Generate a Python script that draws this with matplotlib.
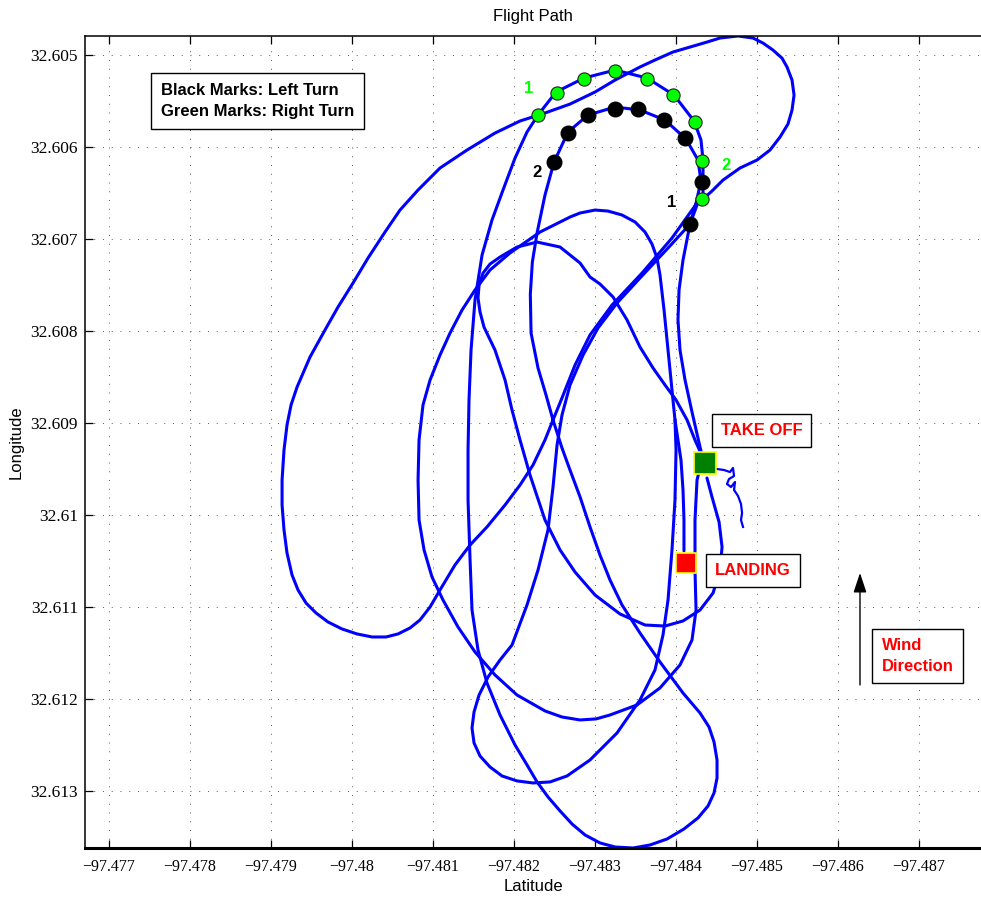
import matplotlib
matplotlib.use("Agg")
import matplotlib.pyplot as plt

# flight track, x = longitude, y = latitude (degrees)
# take-off climb, left turn and southbound leg
climb_lon = [-97.484349, -97.484300, -97.484201, -97.484115, -97.484053, -97.484028, -97.484041, -97.484090,
             -97.484177, -97.484251, -97.484312, -97.484275, -97.484127, -97.483868, -97.483559, -97.483251,
             -97.482917, -97.482670, -97.482498, -97.482386, -97.482288, -97.482230, -97.482205, -97.482214,
             -97.482300, -97.482399, -97.482485, -97.482596, -97.482695, -97.482819, -97.482942, -97.483065,
             -97.483189, -97.483337, -97.483559, -97.483806, -97.484090]
climb_lat = [32.609435, 32.609261, 32.608880, 32.608533, 32.608207, 32.607880, 32.607554, 32.607228,
             32.606837, 32.606609, 32.606370, 32.606141, 32.605913, 32.605707, 32.605598, 32.605565,
             32.605652, 32.605837, 32.606163, 32.606522, 32.606935, 32.607250, 32.607600, 32.608022,
             32.608402, 32.608696, 32.608967, 32.609272, 32.609511, 32.609804, 32.610130, 32.610435,
             32.610707, 32.610978, 32.611283, 32.611598, 32.611935]

# southern loop
south_lon = [-97.484300, -97.484411, -97.484473, -97.484510, -97.484510, -97.484473, -97.484399, -97.484275,
             -97.484102, -97.483893, -97.483683, -97.483473, -97.483251, -97.483065, -97.482880, -97.482720,
             -97.482572, -97.482423, -97.482288, -97.482164]
south_lat = [32.612152, 32.612304, 32.612467, 32.612663, 32.612859, 32.613022, 32.613163, 32.613293,
             32.613413, 32.613522, 32.613587, 32.613620, 32.613609, 32.613565, 32.613478, 32.613359,
             32.613217, 32.613065, 32.612902, 32.612717]

# northbound leg and right turn
north_lon = [-97.482016, -97.481831, -97.481670, -97.481559, -97.481485, -97.481461, -97.481436, -97.481436,
             -97.481448, -97.481473, -97.481522, -97.481609, -97.481732, -97.481868, -97.482016, -97.482164,
             -97.482300, -97.482522, -97.482868, -97.483251, -97.483646, -97.483979, -97.484226, -97.484312,
             -97.484337, -97.484337, -97.484337]
north_lat = [32.612500, 32.612174, 32.611826, 32.611467, 32.611033, 32.610489, 32.609837, 32.609293,
             32.608750, 32.608207, 32.607663, 32.607174, 32.606793, 32.606467, 32.606120, 32.605837,
             32.605652, 32.605402, 32.605250, 32.605163, 32.605250, 32.605435, 32.605717, 32.605924,
             32.606141, 32.606359, 32.606565]

# north-east lobe and long westbound leg
lobe_lon = [-97.484448, -97.484584, -97.484794, -97.485004, -97.485164, -97.485288, -97.485386, -97.485436,
            -97.485461, -97.485436, -97.485374, -97.485312, -97.485201, -97.485078, -97.484954, -97.484769,
            -97.484547, -97.484386, -97.484177, -97.483967, -97.483744, -97.483559, -97.483251, -97.483004,
            -97.482695, -97.482386, -97.482078, -97.481769, -97.481423, -97.481090, -97.480819, -97.480596,
            -97.480411, -97.480201, -97.480016, -97.479831, -97.479670, -97.479485, -97.479325]
lobe_lat = [32.606478, 32.606359, 32.606228, 32.606141, 32.606033, 32.605891, 32.605750, 32.605598,
            32.605435, 32.605272, 32.605130, 32.605033, 32.604946, 32.604870, 32.604815, 32.604793,
            32.604815, 32.604859, 32.604913, 32.604967, 32.605054, 32.605130, 32.605272, 32.605402,
            32.605533, 32.605630, 32.605717, 32.605848, 32.606033, 32.606228, 32.606467, 32.606685,
            32.606924, 32.607207, 32.607478, 32.607739, 32.607989, 32.608283, 32.608609]

# western loop and return to the north-east
west_lon = [-97.479251, -97.479201, -97.479164, -97.479140, -97.479140, -97.479164, -97.479201, -97.479263,
            -97.479337, -97.479436, -97.479559, -97.479707, -97.479880, -97.480065, -97.480251, -97.480423,
            -97.480572, -97.480720, -97.480843, -97.480967, -97.481090, -97.481275, -97.481461, -97.481670,
            -97.481893, -97.482078, -97.482238, -97.482386, -97.482485, -97.482596, -97.482757, -97.482942,
            -97.483214, -97.483584, -97.483954, -97.484263]
west_lat = [32.608804, 32.609022, 32.609293, 32.609620, 32.609891, 32.610163, 32.610413, 32.610652,
            32.610815, 32.610957, 32.611065, 32.611163, 32.611239, 32.611293, 32.611326, 32.611326,
            32.611293, 32.611228, 32.611141, 32.611000, 32.610815, 32.610543, 32.610326, 32.610130,
            32.609891, 32.609674, 32.609457, 32.609185, 32.608967, 32.608728, 32.608370, 32.608043,
            32.607717, 32.607370, 32.606989, 32.606609]

# second pass: south-west leg, small south loop, middle arch, western descent, southern sweep
pass2_lon = [-97.484263, -97.484177, -97.483905, -97.483559, -97.483275, -97.483041, -97.482856, -97.482695,
             -97.482596, -97.482535, -97.482485, -97.482423, -97.482300, -97.482164, -97.481979, -97.481831,
             -97.481683, -97.481572, -97.481510, -97.481485, -97.481510, -97.481584, -97.481707, -97.481856,
             -97.482041, -97.482238, -97.482448, -97.482658, -97.482942, -97.483275, -97.483559, -97.483744,
             -97.483843, -97.483905, -97.483954, -97.483991, -97.484004, -97.483991, -97.483954, -97.483905,
             -97.483856, -97.483806, -97.483769, -97.483707, -97.483621, -97.483498, -97.483337, -97.483164,
             -97.483004, -97.482819, -97.482695, -97.482325, -97.481954, -97.481707, -97.481522, -97.481362,
             -97.481214, -97.481090, -97.480967, -97.480880, -97.480831, -97.480819, -97.480831, -97.480893,
             -97.480991, -97.481127, -97.481312, -97.481522, -97.481769, -97.482041, -97.482386, -97.482596,
             -97.482819, -97.483016, -97.483189, -97.483522, -97.483806, -97.484053, -97.484201, -97.484251,
             -97.484238, -97.484238, -97.484263, -97.484300]
pass2_lat = [32.606630, 32.606837, 32.607098, 32.607424, 32.607696, 32.607967, 32.608261, 32.608587,
             32.608913, 32.609239, 32.609696, 32.610163, 32.610598, 32.610978, 32.611413, 32.611576,
             32.611761, 32.611957, 32.612141, 32.612315, 32.612478, 32.612620, 32.612739, 32.612837,
             32.612891, 32.612913, 32.612902, 32.612837, 32.612663, 32.612370, 32.612011, 32.611685,
             32.611304, 32.610924, 32.610380, 32.609837, 32.609293, 32.608967, 32.608641, 32.608207,
             32.607772, 32.607391, 32.607207, 32.607054, 32.606924, 32.606815, 32.606739, 32.606696,
             32.606685, 32.606717, 32.606761, 32.606924, 32.607152, 32.607337, 32.607554, 32.607772,
             32.608022, 32.608261, 32.608533, 32.608804, 32.609185, 32.609620, 32.610054, 32.610380,
             32.610674, 32.610924, 32.611217, 32.611489, 32.611739, 32.611957, 32.612130, 32.612196,
             32.612228, 32.612217, 32.612174, 32.612065, 32.611880, 32.611630, 32.611359, 32.611033,
             32.610598, 32.610054, 32.609620, 32.609489]

# inner arch and eastern loop back to the field
pass3_lon = [-97.484337, -97.484238, -97.484140, -97.484004, -97.483868, -97.483720, -97.483559, -97.483399,
             -97.483226, -97.483065, -97.482942, -97.482819, -97.482572, -97.482288, -97.482041, -97.481831,
             -97.481707, -97.481621, -97.481572, -97.481559, -97.481584, -97.481633, -97.481769, -97.481893,
             -97.481979, -97.482078, -97.482201, -97.482386, -97.482572, -97.482757, -97.483004, -97.483312,
             -97.483621, -97.483868, -97.484090, -97.484300, -97.484461, -97.484547, -97.484572, -97.484535,
             -97.484448, -97.484386]
pass3_lat = [32.609380, 32.609185, 32.608967, 32.608750, 32.608587, 32.608402, 32.608174, 32.607880,
             32.607630, 32.607489, 32.607413, 32.607261, 32.607087, 32.607033, 32.607087, 32.607196,
             32.607272, 32.607370, 32.607500, 32.607641, 32.607793, 32.607957, 32.608207, 32.608533,
             32.608859, 32.609185, 32.609565, 32.610054, 32.610380, 32.610620, 32.610870, 32.611076,
             32.611196, 32.611207, 32.611152, 32.611033, 32.610848, 32.610598, 32.610348, 32.610076,
             32.609804, 32.609598]

# final approach
approach_lon = [-97.483991, -97.484028, -97.484065, -97.484090, -97.484102, -97.484102]
approach_lat = [32.608967, 32.609185, 32.609402, 32.609728, 32.610054, 32.610391]

# ground track before take-off
taxi_lon = [-97.484510, -97.484596, -97.484670, -97.484707, -97.484720, -97.484658, -97.484633, -97.484683,
            -97.484732, -97.484720, -97.484769, -97.484806, -97.484819, -97.484806, -97.484831]
taxi_lat = [32.609500, 32.609511, 32.609533, 32.609489, 32.609576, 32.609609, 32.609663, 32.609696,
            32.609641, 32.609728, 32.609793, 32.609880, 32.609978, 32.610054, 32.610130]

# turn marks
right_turn_lon = [-97.482300, -97.482535, -97.482868, -97.483251, -97.483646, -97.483967, -97.484238,
                  -97.484325, -97.484325]
right_turn_lat = [32.605652, 32.605413, 32.605261, 32.605174, 32.605261, 32.605435, 32.605728,
                  32.606152, 32.606565]
left_turn_lon = [-97.482498, -97.482670, -97.482917, -97.483251, -97.483535, -97.483856, -97.484115,
                 -97.484325, -97.484177]
left_turn_lat = [32.606163, 32.605848, 32.605652, 32.605587, 32.605587, 32.605707, 32.605902,
                 32.606380, 32.606837]

takeoff = (-97.484362, 32.609435)
landing = (-97.484127, 32.610522)
wind_lon = -97.486275
wind_lat = (32.611848, 32.610630)

x_ticks = [-97.477, -97.478, -97.479, -97.480, -97.481, -97.482, -97.483, -97.484, -97.485, -97.486, -97.487]
y_ticks = [32.605, 32.606, 32.607, 32.608, 32.609, 32.610, 32.611, 32.612, 32.613]

sans = "Liberation Sans"
serif = "Liberation Serif"

fig = plt.figure(figsize=(9.81, 8.98), dpi=100)
ax = fig.add_axes([85 / 981, 50 / 898, 896 / 981, 812 / 898])

track = dict(color="#0000ff", lw=2.2, solid_joinstyle="round", solid_capstyle="round", zorder=2)
pass1_lon = climb_lon + south_lon + north_lon + lobe_lon + west_lon
pass1_lat = climb_lat + south_lat + north_lat + lobe_lat + west_lat
ax.plot(pass1_lon, pass1_lat, **track)
ax.plot(pass2_lon, pass2_lat, **track)
ax.plot(pass3_lon, pass3_lat, **track)
ax.plot(approach_lon, approach_lat, **track)
ax.plot(taxi_lon, taxi_lat, color="#0000ff", lw=1.6, solid_joinstyle="round", zorder=2)

ax.plot(right_turn_lon, right_turn_lat, "o", ms=9.5, mfc="#00ff00", mec="#202020", mew=0.8, zorder=3)
ax.plot(left_turn_lon, left_turn_lat, "o", ms=10.5, mfc="black", mec="black", zorder=3)

ax.plot(*takeoff, "s", ms=16.5, mfc="#008000", mec="#ffff00", mew=1.2, zorder=4)
ax.plot(*landing, "s", ms=15, mfc="#ff0000", mec="#ffff00", mew=1.2, zorder=4)

num = dict(fontsize=12, fontweight="bold", family=sans, ha="center", va="center")
ax.text(-97.482189, 32.605359, "1", color="#00ff00", **num)
ax.text(-97.484621, 32.606196, "2", color="#00ff00", **num)
ax.text(-97.482288, 32.606272, "2", color="black", **num)
ax.text(-97.483954, 32.606598, "1", color="black", **num)

label = dict(fontsize=12, fontweight="bold", family=sans, va="center", zorder=5)
ax.text(-97.477646, 32.605500, "Black Marks: Left Turn\nGreen Marks: Right Turn", ha="left",
        linespacing=1.45, bbox=dict(boxstyle="square,pad=0.6", fc="white", ec="black", lw=1), **label)
box = dict(boxstyle="square,pad=0.55", fc="white", ec="black", lw=1)
ax.text(-97.485059, 32.609082, "TAKE OFF", color="#ff0000", ha="center", bbox=box, **label)
ax.text(-97.484954, 32.610603, "LANDING", color="#ff0000", ha="center", bbox=box, **label)
ax.text(-97.486985, 32.611533, "Wind\nDirection", color="#ff0000", ha="center", multialignment="left",
        linespacing=1.45, bbox=box, **label)

ax.annotate("", xy=(wind_lon, wind_lat[1]), xytext=(wind_lon, wind_lat[0]),
            arrowprops=dict(arrowstyle="-|>,head_length=0.6,head_width=0.2", mutation_scale=20,
                            lw=1, color="black", shrinkA=0, shrinkB=0))

ax.set_xlim(-97.476707, -97.487769)
ax.set_ylim(32.613620, 32.604793)
ax.set_xticks(x_ticks)
ax.set_yticks(y_ticks)
ax.set_xticklabels([f"{v:g}".replace("-", "\u2212") for v in x_ticks], family=serif, fontsize=11.5)
ax.set_yticklabels([f"{v:g}" for v in y_ticks], family=serif, fontsize=12.5)

ax.grid(True, color="0.35", lw=0.7, linestyle=(0, (1, 8)))
ax.tick_params(direction="in", length=6, width=0.9, top=True, right=False, pad=5)
ax.tick_params(axis="x", pad=8)
for side in ("left", "top"):
    ax.spines[side].set_linewidth(1.1)
ax.spines["bottom"].set_linewidth(2.2)
ax.spines["right"].set_visible(False)

ax.set_title("Flight Path", family=sans, fontsize=12, pad=11)
ax.set_xlabel("Latitude", family=sans, fontsize=12, labelpad=3)
ax.set_ylabel("Longitude", family=sans, fontsize=12, labelpad=5)

fig.savefig("out.png", dpi=100)
